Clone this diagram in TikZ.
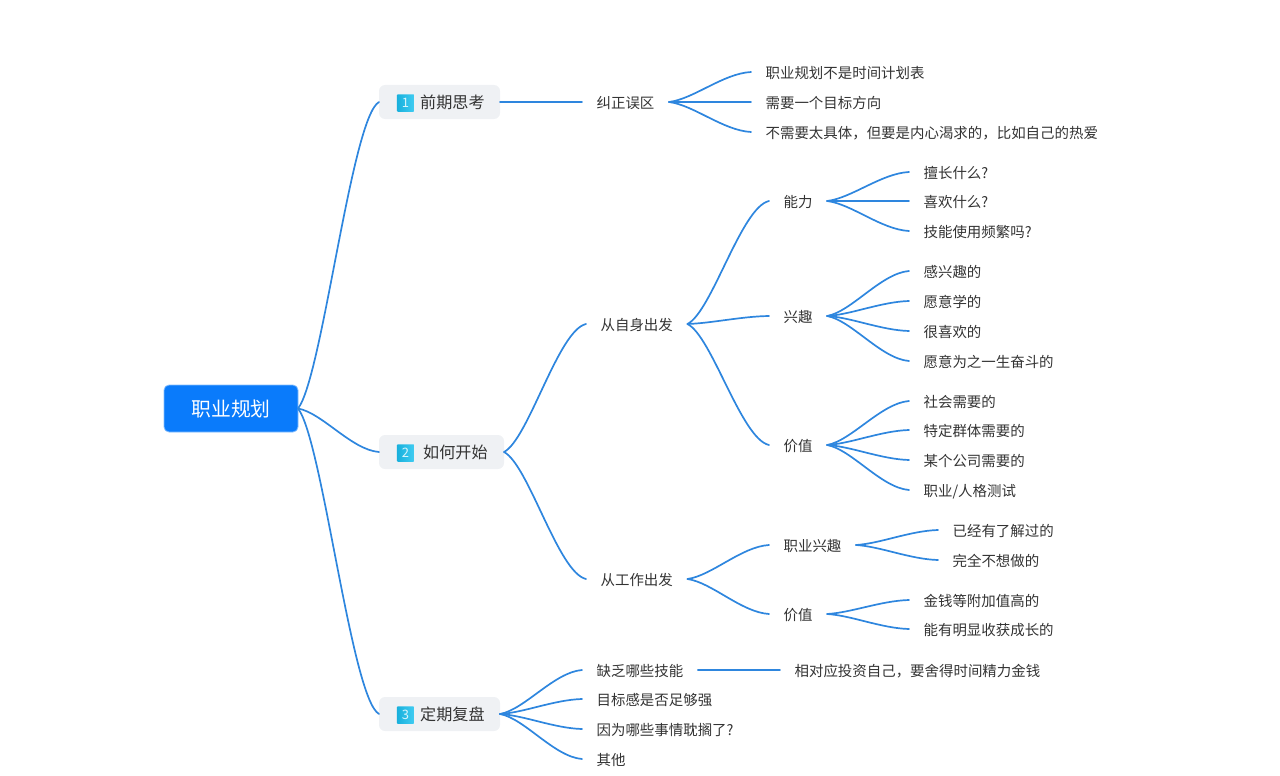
\documentclass[tikz,border=0pt]{standalone}
\usepackage{fontspec}
\setmainfont{Noto Sans CJK SC}
\usetikzlibrary{calc}
\definecolor{linkc}{HTML}{2E86DE}
\definecolor{rootc}{HTML}{0A7BFB}
\definecolor{lonec}{HTML}{EFF1F4}
\definecolor{inkc}{HTML}{333333}
\definecolor{iconl}{HTML}{18B0DC}
\definecolor{iconr}{HTML}{40CCF2}
\tikzset{
  x=1pt,y=-1pt,
  leaf/.style={inner xsep=14.6pt,inner ysep=0pt,outer sep=0pt,text height=12pt,text depth=0pt,anchor=west,text=inkc,font=\fontsize{14.45}{16}\selectfont},
  rootbox/.style={fill=rootc,draw=rootc!50,line width=0.8pt,rounded corners=5pt,minimum width=134pt,minimum height=47pt,inner sep=0pt,outer sep=0pt,text=white,text height=15pt,text depth=0pt,font=\fontsize{19.8}{22}\selectfont},
  lonebox/.style={fill=lonec,rounded corners=6pt,minimum height=34pt,inner sep=0pt,outer sep=0pt},
  lonetext/.style={inner sep=0pt,anchor=west,text height=13pt,text depth=0pt,text=inkc,font=\fontsize{16.1}{18}\selectfont},
  iconbox/.style={inner sep=0pt,minimum size=17.5pt,rounded corners=1pt,left color=iconl,right color=iconr,text=white!80!iconr,font=\fontsize{13}{14}\selectfont},
  linkline/.style={draw=linkc,line width=1.7pt,line cap=round}
}
\newcommand{\lnk}[2]{\draw[linkline] let \p1=(#1),\p2=(#2),\n1={\x2-\x1},\n2={\y2-\y1} in (\p1) .. controls (\x1+0.30*\n1,\y1+0.10*\n2) and (\x1+0.66*\n1,\y1+0.95*\n2) .. (\p2);}
\begin{document}
\begin{tikzpicture}
\useasboundingbox (0,0) rectangle (1280,776);
% root
\node[rootbox] (root) at (231,408.5) {职业规划};
% first level
\node[lonebox,minimum width=121pt] (a) at (439.5,102) {};
\node[iconbox] (ai) at (405.5,103) {1};
\node[lonetext] (at) at (420,102) {前期思考};
\node[lonebox,minimum width=125pt] (b) at (441.5,452) {};
\node[iconbox] (bi) at (405.5,453) {2};
\node[lonetext] (bt) at (423,452) {如何开始};
\node[lonebox,minimum width=121pt] (c) at (439.5,714) {};
\node[iconbox] (ci) at (405.5,715) {3};
\node[lonetext] (ct) at (420,714) {定期复盘};
% branch a
\node[leaf] (a1) at (582,102) {纠正误区};
\node[leaf] (a11) at (751,72) {职业规划不是时间计划表};
\node[leaf] (a12) at (751,102) {需要一个目标方向};
\node[leaf] (a13) at (751,132) {不需要太具体，但要是内心渴求的，比如自己的热爱};
% branch b
\node[leaf] (b1) at (586,324) {从自身出发};
\node[leaf] (b2) at (586,579) {从工作出发};
\node[leaf] (n1) at (769,201) {能力};
\node[leaf] (n2) at (769,316) {兴趣};
\node[leaf] (n3) at (769,445) {价值};
\node[leaf] (n11) at (909,172) {擅长什么?};
\node[leaf] (n12) at (909,201) {喜欢什么?};
\node[leaf] (n13) at (909,231) {技能使用频繁吗?};
\node[leaf] (n21) at (909,271) {感兴趣的};
\node[leaf] (n22) at (909,301) {愿意学的};
\node[leaf] (n23) at (909,331) {很喜欢的};
\node[leaf] (n24) at (909,361) {愿意为之一生奋斗的};
\node[leaf] (n31) at (909,401) {社会需要的};
\node[leaf] (n32) at (909,430) {特定群体需要的};
\node[leaf] (n33) at (909,460) {某个公司需要的};
\node[leaf] (n34) at (909,490) {职业/人格测试};
\node[leaf] (w1) at (769,545) {职业兴趣};
\node[leaf] (w2) at (769,614) {价值};
\node[leaf] (w11) at (938,530) {已经有了解过的};
\node[leaf] (w12) at (938,560) {完全不想做的};
\node[leaf] (w21) at (909,600) {金钱等附加值高的};
\node[leaf] (w22) at (909,629) {能有明显收获成长的};
% branch c
\node[leaf] (c1) at (582,670) {缺乏哪些技能};
\node[leaf] (c2) at (582,699) {目标感是否足够强};
\node[leaf] (c3) at (582,729) {因为哪些事情耽搁了?};
\node[leaf] (c4) at (582,759) {其他};
\node[leaf] (c11) at (780,670) {相对应投资自己，要舍得时间精力金钱};
% connectors
\lnk{root.east}{a.west}
\lnk{root.east}{b.west}
\lnk{root.east}{c.west}
\lnk{a.east}{a1.west}
\lnk{a1.east}{a11.west}
\lnk{a1.east}{a12.west}
\lnk{a1.east}{a13.west}
\lnk{b.east}{b1.west}
\lnk{b.east}{b2.west}
\lnk{b1.east}{n1.west}
\lnk{b1.east}{n2.west}
\lnk{b1.east}{n3.west}
\lnk{n1.east}{n11.west}
\lnk{n1.east}{n12.west}
\lnk{n1.east}{n13.west}
\lnk{n2.east}{n21.west}
\lnk{n2.east}{n22.west}
\lnk{n2.east}{n23.west}
\lnk{n2.east}{n24.west}
\lnk{n3.east}{n31.west}
\lnk{n3.east}{n32.west}
\lnk{n3.east}{n33.west}
\lnk{n3.east}{n34.west}
\lnk{b2.east}{w1.west}
\lnk{b2.east}{w2.west}
\lnk{w1.east}{w11.west}
\lnk{w1.east}{w12.west}
\lnk{w2.east}{w21.west}
\lnk{w2.east}{w22.west}
\lnk{c.east}{c1.west}
\lnk{c.east}{c2.west}
\lnk{c.east}{c3.west}
\lnk{c.east}{c4.west}
\lnk{c1.east}{c11.west}
\end{tikzpicture}
\end{document}
